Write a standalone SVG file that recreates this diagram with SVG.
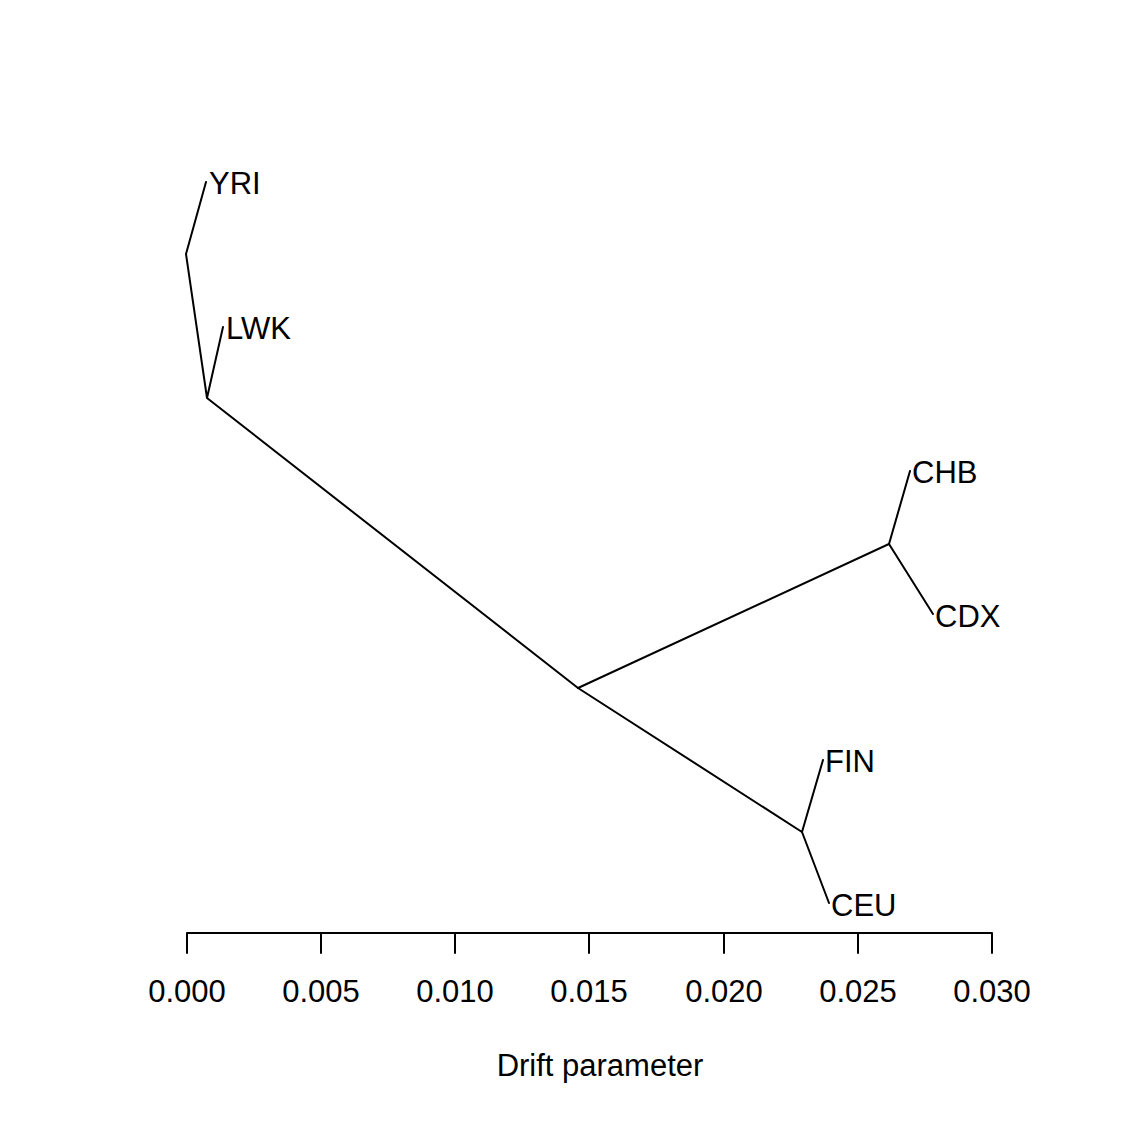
<svg xmlns="http://www.w3.org/2000/svg" width="1125" height="1125" viewBox="0 0 1125 1125">
<style>
.e{stroke:#000;stroke-width:2;fill:none;stroke-linecap:round}
.t{font-family:"Liberation Sans",Arial,sans-serif;font-size:31px;fill:#000}
.m{text-anchor:middle}
</style>
<rect width="1125" height="1125" fill="#fff"/>
<g id="connectors">
<polyline class="e" points="206,182 186,254 207,398 223,327"/>
<line class="e" x1="207" y1="398" x2="578" y2="688"/>
<polyline class="e" points="578,688 889,544 910,471"/>
<line class="e" x1="889" y1="544" x2="933" y2="614"/>
<polyline class="e" points="578,688 802,832 823,760"/>
<line class="e" x1="802" y1="832" x2="829" y2="903"/>
</g>
<g id="YRI"><text class="t" x="209" y="194">YRI</text></g>
<g id="LWK"><text class="t" x="226" y="339">LWK</text></g>
<g id="CHB"><text class="t" x="912" y="483">CHB</text></g>
<g id="CDX"><text class="t" x="935" y="627">CDX</text></g>
<g id="FIN"><text class="t" x="825" y="772">FIN</text></g>
<g id="CEU"><text class="t" x="831" y="916">CEU</text></g>
<g id="axis">
<path class="e" d="M187,933H992M187,933v20M321,933v20M455,933v20M589,933v20M724,933v20M858,933v20M992,933v20"/>
<text class="t m" x="187" y="1002">0.000</text>
<text class="t m" x="321" y="1002">0.005</text>
<text class="t m" x="455" y="1002">0.010</text>
<text class="t m" x="589" y="1002">0.015</text>
<text class="t m" x="724" y="1002">0.020</text>
<text class="t m" x="858" y="1002">0.025</text>
<text class="t m" x="992" y="1002">0.030</text>
<text class="t m" x="600" y="1076">Drift parameter</text>
</g>
</svg>
